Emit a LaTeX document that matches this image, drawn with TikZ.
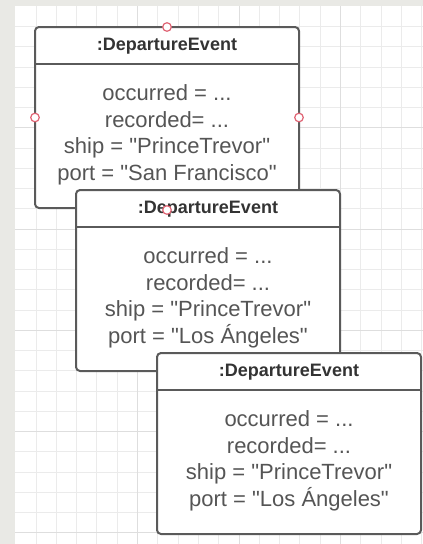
\documentclass[tikz,border=0pt]{standalone}
\usepackage{fontspec}
\setmainfont{Liberation Sans}[Ligatures=TeXOff]
\definecolor{bggray}{HTML}{E9E9E5}
\definecolor{gridminor}{HTML}{EBEBEB}
\definecolor{gridmajor}{HTML}{DEDEDE}
\definecolor{boxgray}{HTML}{5A5A5A}
\definecolor{headcol}{HTML}{333333}
\definecolor{bodycol}{HTML}{555555}
\definecolor{handlered}{HTML}{E06474}
\tikzset{
  gridline/.style={draw=gridminor, line width=0.9pt},
  gridmaj/.style={draw=gridmajor, line width=1pt},
  objbox/.style={draw=boxgray, fill=white, line width=2pt, rounded corners=4pt,
    minimum width=264pt, minimum height=181pt, inner sep=0pt, outer sep=0pt},
  boxline/.style={draw=boxgray, line width=2pt},
  headtxt/.style={text=headcol, font=\fontsize{18}{21}\selectfont\bfseries, inner sep=0pt},
  bodytxt/.style={text=bodycol, font=\fontsize{22}{26}\selectfont, inner sep=0pt},
  handle/.style={circle, draw=handlered, fill=white, line width=1.2pt,
    minimum size=8.6pt, inner sep=0pt}
}
\newcommand\depbox[4]{%
  \node[objbox, anchor=north west] (#1) at (#2,#3) {};
  \draw[boxline] ([yshift=-37pt]#1.north west) -- ([yshift=-37pt]#1.north east);
  \node[headtxt, anchor=base] (#1h) at ([yshift=-23.5pt]#1.north) {:DepartureEvent};
  \node[bodytxt, anchor=base] (#1a) at ([yshift=-73.5pt]#1.north) {occurred = ...};
  \node[bodytxt, anchor=base] (#1b) at ([yshift=-100.2pt]#1.north) {recorded= ...};
  \node[bodytxt, anchor=base] (#1c) at ([yshift=-126.9pt]#1.north) {ship = "PrinceTrevor"};
  \node[bodytxt, anchor=base] (#1d) at ([yshift=-153.6pt]#1.north) {port = "#4"};
}
\begin{document}
\begin{tikzpicture}[x=1pt,y=-1pt]
\useasboundingbox (0,0) rectangle (423,544);
\fill[bggray] (0,0) rectangle (423,544);
\fill[white] (15,6) rectangle (423,544);
\foreach \i in {0,...,19} {
  \pgfmathsetmacro\xx{36+20.3*\i}
  \draw[gridline] (\xx,6) -- (\xx,544);
}
\foreach \i in {0,...,25} {
  \pgfmathsetmacro\yy{26.5+20.25*\i}
  \draw[gridline] (15,\yy) -- (423,\yy);
}
\foreach \i in {5,10,15} {
  \pgfmathsetmacro\xx{36+20.3*\i}
  \draw[gridmaj] (\xx,6) -- (\xx,544);
}
\foreach \i in {5,10,15,20,25} {
  \pgfmathsetmacro\yy{26.5+20.25*\i}
  \draw[gridmaj] (15,\yy) -- (423,\yy);
}
\depbox{b1}{35}{27}{San Francisco}
\depbox{b2}{76}{190}{Los Ángeles}
\depbox{b3}{157}{353}{Los Ángeles}
\node[handle] (h1) at (b1.north) {};
\node[handle] (h2) at (b1.west) {};
\node[handle] (h3) at (b1.east) {};
\node[handle] (h4) at ([yshift=-2pt]b1.south) {};
\end{tikzpicture}
\end{document}
